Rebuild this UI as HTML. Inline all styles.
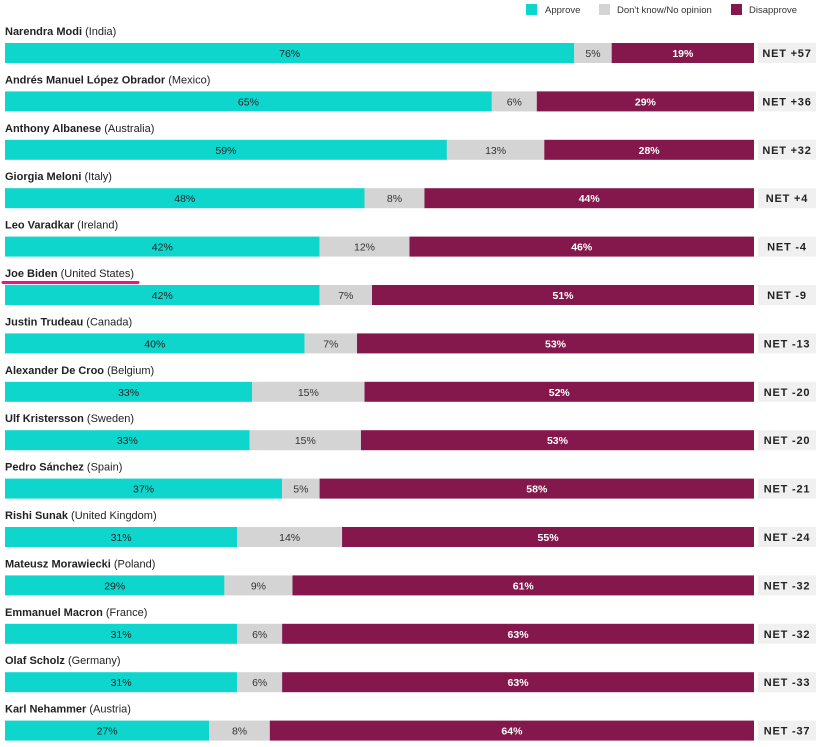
<!DOCTYPE html>
<html><head><meta charset="utf-8"><style>
body{margin:0;background:#fff;font-family:"Liberation Sans",sans-serif;}
svg text{font-family:"Liberation Sans",sans-serif;}
</style></head><body>
<svg id="chart" width="819" height="742" xmlns="http://www.w3.org/2000/svg">
<g>
<rect x="526" y="4" width="11" height="11" fill="#0fd6cc"/><text x="545" y="13" font-size="9.5" fill="#333">Approve</text>
<rect x="599" y="4" width="11" height="11" fill="#d4d4d4"/><text x="617" y="13" font-size="9.5" fill="#333">Don't know/No opinion</text>
<rect x="731" y="4" width="11" height="11" fill="#84184c"/><text x="749" y="13" font-size="9.5" fill="#333">Disapprove</text>
</g>
<g id="rows"></g>
</svg>
<script>
const leaders=["Narendra Modi","Andrés Manuel López Obrador","Anthony Albanese","Giorgia Meloni","Leo Varadkar","Joe Biden","Justin Trudeau","Alexander De Croo","Ulf Kristersson","Pedro Sánchez","Rishi Sunak","Mateusz Morawiecki","Emmanuel Macron","Olaf Scholz","Karl Nehammer"];
const countries=["India","Mexico","Australia","Italy","Ireland","United States","Canada","Belgium","Sweden","Spain","United Kingdom","Poland","France","Germany","Austria"];
const approve=[76,65,59,48,42,42,40,33,33,37,31,29,31,31,27];
const unsure=[5,6,13,8,12,7,7,15,15,5,14,9,6,6,8];
const disapprove=[19,29,28,44,46,51,53,52,53,58,55,61,63,63,64];
const net=["+57","+36","+32","+4","-4","-9","-13","-20","-20","-21","-24","-32","-32","-33","-37"];
const NS="http://www.w3.org/2000/svg";
const g=document.getElementById('rows');
const x0=5,W=749;
const rowY=i=>43+i*48.4;
function mk(t,a){const e=document.createElementNS(NS,t);for(const k in a)e.setAttribute(k,a[k]);return e;}
leaders.forEach((n,i)=>{
  const y=rowY(i);
  const tot=approve[i]+unsure[i]+disapprove[i];
  const xs=v=>v/tot*W;
  const row=mk('g',{});
  
  
  const lbl=mk('text',{x:5,y:y-8,'font-size':11,fill:'#222'});
  
  
  const b=mk('tspan',{'font-weight':'bold'});b.textContent=n;
  const c=mk('tspan',{});c.textContent=' ('+countries[i]+')';
  lbl.appendChild(b);lbl.appendChild(c);row.appendChild(lbl);
  if(n==="Joe Biden"){const u=mk('line',{x1:3,y1:y-2.5,x2:138,y2:y-2.5,stroke:'#f0108c','stroke-width':3,'stroke-linecap':'round'});
    row.appendChild(u);}
  const segs=[[approve[i],'#0fd6cc','#222','normal','approve'],[unsure[i],'#d4d4d4','#333','normal','unsure'],[disapprove[i],'#84184c','#fff','bold','disapprove']];
  let cx=x0;
  segs.forEach(s=>{
    const w=xs(s[0]);
    const r=mk('rect',{x:cx,y:y,width:w,height:20,fill:s[1]});
    
    
    row.appendChild(r);
    const t=mk('text',{x:cx+w/2,y:y+14,'font-size':10.5,fill:s[2],'font-weight':s[3],'text-anchor':'middle'});
    t.textContent=s[0]+'%';
    
    
    row.appendChild(t);
    cx+=w;
  });
  const nb=mk('rect',{x:758,y:y,width:58,height:20,fill:'#f0f0f0'});
  
  
  row.appendChild(nb);
  const nt=mk('text',{x:787,y:y+14,'font-size':11,'font-weight':'bold',fill:'#222','text-anchor':'middle','letter-spacing':'0.8'});
  nt.textContent='NET '+net[i];
  
  
  row.appendChild(nt);
  g.appendChild(row);
});
</script>
</body></html>
